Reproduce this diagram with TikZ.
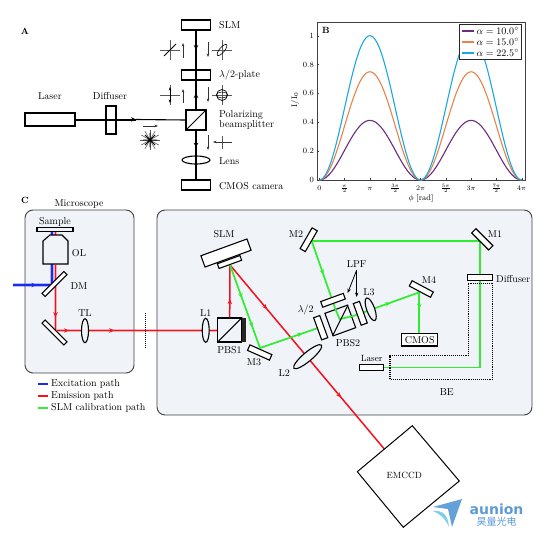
\documentclass[tikz,border=0pt]{standalone}
\usepackage{amsmath,amssymb}
\usepackage{fontspec}
\newfontfamily\cjk{Noto Sans CJK SC}
\newfontfamily\logofont{DejaVu Sans}
\usepackage{xcolor}
\usetikzlibrary{arrows.meta,decorations.markings,shapes.geometric}
\definecolor{boxfill}{HTML}{F0F4F8}
\definecolor{curveA}{HTML}{6A2C7C}
\definecolor{curveB}{HTML}{E8834A}
\definecolor{curveC}{HTML}{1BA8E0}
\definecolor{beamblue}{HTML}{1A2BF0}
\definecolor{beamred}{HTML}{F5101E}
\definecolor{beamgreen}{HTML}{2FEE2F}
\definecolor{logoA}{HTML}{5E9BD6}
\definecolor{logoB}{HTML}{7FCDEB}
\tikzset{
  optic/.style={draw,fill=white,line width=1.1pt,inner sep=0pt},
  lensnode/.style={draw,ellipse,line width=1.1pt,inner sep=0pt},
  panelbox/.style={draw=black!75,fill=boxfill,line width=0.9pt,rounded corners=8pt},
  lbl/.style={inner sep=0pt,font=\normalsize},
  tick/.style={inner sep=0pt,font=\scriptsize},
  beamA/.style={line width=1.4pt},
  pol/.style={line width=0.6pt,black!65},
  polar/.style={line width=0.7pt,black!80,-{Stealth[length=3.5pt]}},
  ex/.style={beamblue,line width=1.5pt},
  em/.style={beamred,line width=1.5pt},
  cal/.style={beamgreen,line width=1.7pt},
  glow/.style={line width=3.2pt,opacity=0.3},
  tipat/.style={postaction={decorate,decoration={markings,mark=at position #1 with {\arrow{Stealth[length=5pt,width=4.5pt]}}}}}
}
\newcommand{\polcross}[2]{\draw[pol] (#1-10,#2) -- (#1+10,#2); \draw[pol] (#1,#2-10) -- (#1,#2+10);}

\begin{document}
\begin{tikzpicture}[x=1pt,y=-1pt]
\useasboundingbox (0,0) rectangle (541,538);
% panel A
\node[lbl,font=\small\bfseries] (labA) at (25,31) {A};
\node[optic,minimum width=50pt,minimum height=13pt] (lasA) at (50,119.5) {};
\node[optic,minimum width=29pt,minimum height=10pt] (slmA) at (196,25) {};
\node[optic,minimum width=29pt,minimum height=10pt] (plateA) at (196,75) {};
\node[optic,minimum width=29pt,minimum height=10pt] (camA) at (196,185) {};
\node[draw,line width=1.1pt,minimum size=20pt,inner sep=0pt] (pbsA) at (196,120) {};
\coordinate (difA) at (136,119.5);
\draw[line width=2pt] (lasA.east) -- (difA);
\draw[line width=1.1pt,tipat=0.0] (difA) -- (pbsA.west);
\draw[beamA,tipat=0.5] (slmA.south) -- (plateA.north);
\draw[beamA] (plateA.north) -- (pbsA.north);
\draw[beamA,tipat=0.35] (pbsA.south) -- (camA.north);
\draw[-{Stealth[length=5pt,width=4.5pt]},beamA] (196,98) -- (196,93);
\draw[line width=1pt] (pbsA.south west) -- (pbsA.north east);
\node[optic,minimum width=10pt,minimum height=28pt,fill=none] (difB) at (111,120) {};
\node[lensnode,fill=none,minimum width=28pt,minimum height=8pt] (lensA) at (196,160) {};
\node[lbl,anchor=west] (tSlmA) at (219,25) {SLM};
\node[lbl,anchor=west] (tPlateA) at (219,75) {$\lambda/2$-plate};
\node[lbl,anchor=west,align=left,font=\fontsize{10}{10}\selectfont] (tPbsA) at (219,120) {Polarizing\\beamsplitter};
\node[lbl,anchor=west] (tLensA) at (219,161) {Lens};
\node[lbl,anchor=west] (tCamA) at (219,186) {CMOS camera};
\node[lbl] (tLasA) at (50,96) {Laser};
\node[lbl] (tDifA) at (110,96) {Diffuser};
% polarization marks
\polcross{170}{50} \polcross{222}{50} \polcross{170}{95} \polcross{222}{95}
\draw[line width=0.9pt] (164,56) -- (176,44);
\node[draw,ellipse,line width=0.6pt,minimum width=14pt,minimum height=5pt,inner sep=0pt,rotate=50] (polA) at (222,50) {};
\draw[line width=0.8pt,{Stealth[length=3.5pt]}-{Stealth[length=3.5pt]}] (170,87) -- (170,103);
\node[draw,circle,line width=0.7pt,minimum size=11pt,inner sep=0pt] (polB) at (222,95) {};
\node[draw,ellipse,line width=0.5pt,minimum width=11pt,minimum height=6pt,inner sep=0pt] (polC) at (222,95) {};
\draw[polar] (183,58) -- (183,43); \draw[polar] (208,42) -- (208,57);
\draw[polar] (183,103) -- (183,89); \draw[polar] (208,87) -- (208,102);
\draw[polar] (208,135) -- (208,150);
\draw[pol] (222,136) -- (222,149);
\draw[polar] (232,142) -- (213,142);
\draw[polar] (143,126) -- (158,126);
\foreach \ang in {0,30,...,330} {\draw[pol] (150,140) -- ++(\ang:10);}
\draw[line width=0.8pt] (150,133) -- (150,147) (143,140) -- (157,140) (145,135) -- (155,145) (145,145) -- (155,135);
% panel B
\node[lbl,font=\small\bfseries] (labB) at (326,30) {B};
\draw[black!75,line width=0.9pt] (317,22) rectangle (525,180);
\foreach \amp/\col in {0.413/curveA,0.75/curveB,1/curveC} {
  \draw[\col,line width=1.1pt] plot[domain=0:720,samples=121,smooth] ({319.3+\x/180*50.6},{180-144.3*\amp*sin(\x/2)^2});
}
\foreach \val/\txt in {0/$0$,0.2/$0.2$,0.4/$0.4$,0.6/$0.6$,0.8/$0.8$,1/$1$} {
  \draw[black!75,line width=0.4pt] (317,180-144.3*\val) -- (319,180-144.3*\val);
  \node[tick,anchor=east,font=\footnotesize] at (314,180-144.3*\val) {\txt};
}
\foreach \pos/\txt in {0/$0$,0.5/$\frac{\pi}{2}$,1/$\pi$,1.5/$\frac{3\pi}{2}$,2/$2\pi$,2.5/$\frac{5\pi}{2}$,3/$3\pi$,3.5/$\frac{7\pi}{2}$,4/$4\pi$} {
  \draw[black!75,line width=0.4pt] (319.3+50.6*\pos,180) -- (319.3+50.6*\pos,178);
  \node[tick] at (319.3+50.6*\pos,188.5) {\txt};
}
\node[lbl,rotate=90,font=\footnotesize] (tIy) at (295,100) {I/I$_0$};
\node[lbl,font=\footnotesize] (tPhi) at (421,198) {$\phi$ [rad]};
\node[draw=black!85,fill=white,line width=0.9pt,minimum width=62pt,minimum height=35pt,inner sep=0pt] (legB) at (490,41.5) {};
\foreach \col/\yy/\txt in {curveA/31/10.0,curveB/42/15.0,curveC/53/22.5} {
  \draw[\col,line width=1.2pt] (462,\yy) -- (474,\yy);
  \node[lbl,anchor=west] at (476.5,\yy) {$\alpha=\txt^\circ$};
}
% panel C
\node[lbl,font=\small\bfseries] (labC) at (25,200) {C};
\node[lbl] (tMic) at (79,204) {Microscope};
\node[panelbox,minimum width=109pt,minimum height=163pt] (micBox) at (79.5,291.5) {};
\node[panelbox,minimum width=375pt,minimum height=205pt] (mainBox) at (344.5,312.5) {};
% microscope beams
\coordinate (smp) at (52,231); \coordinate (smpR) at (55.5,231);
\coordinate (exIn) at (13,285); \coordinate (exDm) at (52,285);
\coordinate (mirC) at (55.5,330.5);
\coordinate (olOut) at (55.5,264);
\coordinate (mirOut) at (56,330.5);
\coordinate (pbsIn) at (217.7,330.5);
\draw[beamblue,glow] (exIn) -- (exDm) -- (smp);
\draw[beamred,glow] (smpR) -- (mirC) -- (pbsIn);
\draw[ex,tipat=0.6] (exIn) -- (exDm);
\draw[ex] (exDm) -- (smp);
\draw[em] (smpR) -- (olOut);
\node[optic,minimum width=36pt,minimum height=3.5pt,fill=boxfill] (plateS) at (55,229.5) {};
\node[lbl] (tSmp) at (55,222) {Sample};
\draw[optic,fill=boxfill] (43,241) -- (50,235) -- (62,235) -- (68,241) -- (68,264) -- (43,264) -- cycle;
\draw[em,tipat=0.8] (olOut) -- (mirC);
\node[optic,minimum width=31pt,minimum height=4.5pt,rotate=45] (dm) at (54.5,284) {};
\node[optic,minimum width=31pt,minimum height=4.5pt,rotate=-45] (mir) at (54.5,332.5) {};
\draw[em,tipat=0.08,tipat=0.36] (mirOut) -- (pbsIn);
\node[lensnode,fill=boxfill,minimum width=7pt,minimum height=24pt] (lensTl) at (85,330.7) {};
\node[lbl] (tOl) at (79,253) {OL};
\node[lbl] (tDm) at (79,286) {DM};
\node[lbl] (tTl) at (85,313) {TL};
\draw[line width=1pt,densely dotted] (145.5,313) -- (145.5,348);
% legend
\foreach \col/\yy/\txt in {beamblue/384/Excitation path,beamred/396/Emission path,beamgreen/408/SLM calibration path} {
  \draw[\col,line width=1.5pt] (38,\yy) -- (48,\yy);
  \node[lbl,anchor=west] at (51,\yy) {\txt};
}
% main optics
\node[draw,line width=1.1pt,fill=boxfill,minimum size=24pt,inner sep=0pt] (pbs) at (229.7,330) {};
\draw[line width=1pt] (pbs.south west) -- (pbs.north east);
\fill[black!85] (241.7,318) rectangle (245.7,342);
\coordinate (slmPt) at (230,265);
\coordinate (m1Pt) at (480,241); \coordinate (m2Pt) at (311.7,241);
\coordinate (m3Pt) at (260,348); \coordinate (m4Pt) at (419.3,292.3);
\coordinate (laserC) at (383.3,367.5); \coordinate (cornerC) at (480,367.5);
\coordinate (ccdPt) at (384.3,449);
\draw[em,tipat=0.35] (pbs.north) -- (slmPt);
\draw[em,tipat=0.24,tipat=0.72] (slmPt) -- (ccdPt);
\draw[cal,tipat=0.4,tipat=0.75] (slmPt) -- (m3Pt);
\draw[cal,tipat=0.73] (m3Pt) -- (318,328);
\draw[cal] (m1Pt) -- (m2Pt);
\draw[cal,tipat=0.5] (m2Pt) -- (335,308);
\draw[cal] (laserC) -- (cornerC) -- (m1Pt);
\draw[cal,tipat=0.56] (353.3,316) -- (m4Pt);
\draw[cal,tipat=0.4] (m4Pt) -- (419.3,333.5);
\node[optic,minimum width=49pt,minimum height=12pt,rotate=20] (slm) at (226,253) {};
\node[optic,minimum width=24pt,minimum height=5pt,rotate=20] (slmB) at (229.5,262) {};
\node[lbl] (tSlm) at (224,234) {SLM};
\node[lensnode,fill=boxfill,minimum width=7pt,minimum height=24pt] (lensOne) at (205.7,330.3) {};
\node[lbl] (tLOne) at (205.7,313) {L1};
\node[lbl] (tPbs) at (229.5,350.5) {PBS1};
\node[optic,minimum width=24pt,minimum height=6pt,rotate=-24] (m3) at (259.7,352.5) {};
\node[lbl] (tMThree) at (254,362) {M3};
\node[optic,minimum width=24pt,minimum height=6pt,rotate=60] (m2) at (308.7,239.7) {};
\node[lbl] (tMTwo) at (296,234) {M2};
\node[optic,minimum width=24pt,minimum height=6pt,rotate=-45] (m1) at (482.3,239.3) {};
\node[lbl] (tMOne) at (495,234) {M1};
\node[optic,minimum width=24pt,minimum height=6pt,rotate=-28] (m4) at (421.3,289) {};
\node[lbl] (tMFour) at (429,280) {M4};
\node[draw,line width=1.1pt,fill=boxfill,minimum size=24pt,inner sep=0pt,rotate=20] (pbsTwo) at (340.3,320.5) {};
\draw[cal] (335,308) -- (340,320);
\draw[cal] (340,319) -- (353.3,316);
\draw[line width=1pt] (332.7,335.7) -- (348,305);
\node[optic,minimum width=23.5pt,minimum height=6.5pt,rotate=-70] (halfW) at (320.7,327.7) {};
\node[lbl] (tHalf) at (305.7,310) {$\lambda/2$};
\node[optic,minimum width=24pt,minimum height=6pt,rotate=20] (lpfA) at (333,300.3) {};
\node[optic,minimum width=23pt,minimum height=6.5pt,rotate=-70] (lpfB) at (360.3,313.3) {};
\node[lbl] (tPbsTwo) at (348,343) {PBS2};
\node[lensnode,fill=boxfill,minimum width=8pt,minimum height=24pt,rotate=20] (lensThree) at (370.7,309.3) {};
\node[lbl] (tLThree) at (369,292) {L3};
\node[lbl] (tLpf) at (356.7,264.3) {LPF};
\coordinate (lpfTop) at (356.7,270);
\draw[line width=0.8pt,-{Stealth[length=4.5pt]}] (lpfTop) -- (347.7,293);
\draw[line width=0.8pt,-{Stealth[length=4.5pt]}] (lpfTop) -- (356.7,297);
\node[lensnode,fill=boxfill,minimum width=36pt,minimum height=9pt,rotate=40] (lensTwo) at (307.7,356.7) {};
\node[lbl] (tLTwo) at (284.3,373.3) {L2};
\node[optic,minimum width=36pt,minimum height=12.5pt] (cmos) at (419.7,339.7) {CMOS};
\node[optic,minimum width=24pt,minimum height=6pt] (las) at (371.3,367.7) {};
\node[lbl,font=\small] (tLas) at (371.7,358.7) {Laser};
\node[optic,minimum width=24.6pt,minimum height=6.4pt] (dif) at (480,277.5) {};
\node[lbl,anchor=west] (tDif) at (496,279) {Diffuser};
\draw[line width=1.1pt,densely dotted] (468.3,283.3) -- (492.3,283.3) -- (492.3,379.3) -- (390,379.3) -- (390,355.7) -- (468.3,355.7) -- cycle;
\node[lbl] (tBe) at (446.7,391.7) {BE};
% detector
\draw[line width=1pt,fill=white] (412.3,425.7) -- (459.3,481) -- (403.3,527.3) -- (357.3,471.7) -- cycle;
\node[lbl,font=\small] (tCcd) at (404.3,475.7) {EMCCD};
% logo
\fill[logoA,opacity=0.95] (433,507) -- (462,499) -- (452,527) -- (448,509) -- cycle;
\fill[logoB] (433,511) .. controls (443,510) and (448,515) .. (449,527) .. controls (445,518) and (440,514) .. (433,511) -- cycle;
\node[lbl,text=logoA,font=\logofont\bfseries\fontsize{14}{14}\selectfont] (tLogo) at (496.5,509) {aunion};
\node[lbl,text=logoA,font=\cjk\fontsize{10}{10}\selectfont] (tLogoCn) at (496.5,522) {昊量光电};
\end{tikzpicture}
\end{document}
